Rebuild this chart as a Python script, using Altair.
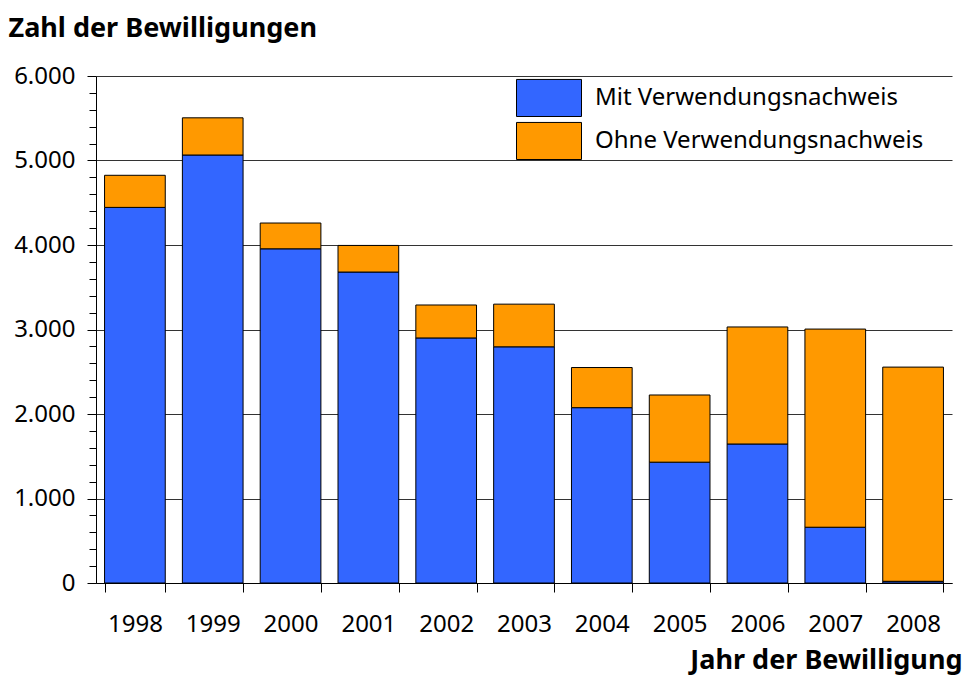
import altair as alt
import pandas as pd

jahre = ["1998", "1999", "2000", "2001", "2002", "2003", "2004", "2005", "2006", "2007", "2008"]
mit = [4445, 5065, 3955, 3680, 2900, 2795, 2075, 1430, 1645, 660, 20]
ohne = [380, 440, 305, 315, 390, 505, 475, 795, 1385, 2345, 2535]
serien = ["Mit Verwendungsnachweis", "Ohne Verwendungsnachweis"]
farben = ["#3366FF", "#FF9900"]
y_werte = list(range(0, 6001, 200))

rows = []
for j, m, o in zip(jahre, mit, ohne):
    rows.append({"Jahr": j, "Art": serien[0], "Wert": m, "Ord": 0})
    rows.append({"Jahr": j, "Art": serien[1], "Wert": o, "Ord": 1})
df = pd.DataFrame(rows)

FONT = "Noto Sans"
major = "datum.value % 1000 === 0"

chart = alt.Chart(df).mark_bar(stroke="black", strokeWidth=1).encode(
    x=alt.X(
        "Jahr:N",
        sort=jahre,
        scale=alt.Scale(paddingInner=0.22, paddingOuter=0.11),
        axis=alt.Axis(
            title="Jahr der Bewilligung",
            labelAngle=0,
            labelFontSize=24,
            labelColor="black",
            labelPadding=20,
            labelBaseline="top",
            tickBand="extent",
            tickSize=9,
            tickColor="black",
            domainColor="black",
            grid=False,
            titleFontSize=27,
            titleFontWeight="bold",
            titleColor="black",
            titleAnchor="end",
            titleAlign="right",
            titleBaseline="alphabetic",
            titleX=866,
            titleY=85,
        ),
    ),
    y=alt.Y(
        "Wert:Q",
        stack="zero",
        scale=alt.Scale(domain=[0, 6000], nice=False),
        axis=alt.Axis(
            title="Zahl der Bewilligungen",
            values=y_werte,
            labelExpr="datum.value % 1000 === 0 ? replace(format(datum.value, ','), ',', '.') : ''",
            labelFontSize=24,
            labelColor="black",
            labelPadding=12,
            tickSize={"condition": {"test": major, "value": 9}, "value": 7},
            tickColor="black",
            domainColor="black",
            grid=True,
            gridColor="#333333",
            gridWidth=1,
            gridOpacity={"condition": {"test": major, "value": 1}, "value": 0},
            titleFontSize=27,
            titleFontWeight="bold",
            titleColor="black",
            titleAngle=0,
            titleAlign="left",
            titleBaseline="alphabetic",
            titleX=-88,
            titleY=-39.5,
        ),
    ),
    color=alt.Color(
        "Art:N",
        scale=alt.Scale(domain=serien, range=farben),
        legend=alt.Legend(
            title=None,
            orient="none",
            legendX=420,
            legendY=1,
            symbolType="M-1,-0.94H1V0.2H-1Z",
            symbolSize=4225,
            symbolStrokeColor="black",
            symbolStrokeWidth=1,
            symbolOpacity=1,
            labelFontSize=24,
            labelColor="black",
            labelBaseline="bottom",
            labelOffset=13,
            labelLimit=500,
            rowPadding=1,
            padding=0,
        ),
    ),
    order=alt.Order("Ord:Q"),
).properties(
    width=856,
    height=507,
    autosize=alt.AutoSizeParams(type="none"),
    padding={"left": 88, "top": 68, "right": 11, "bottom": 94},
).configure(
    font=FONT,
).configure_view(
    strokeWidth=0,
)

chart.save("out.html", embed_options={"renderer": "svg", "actions": False})
